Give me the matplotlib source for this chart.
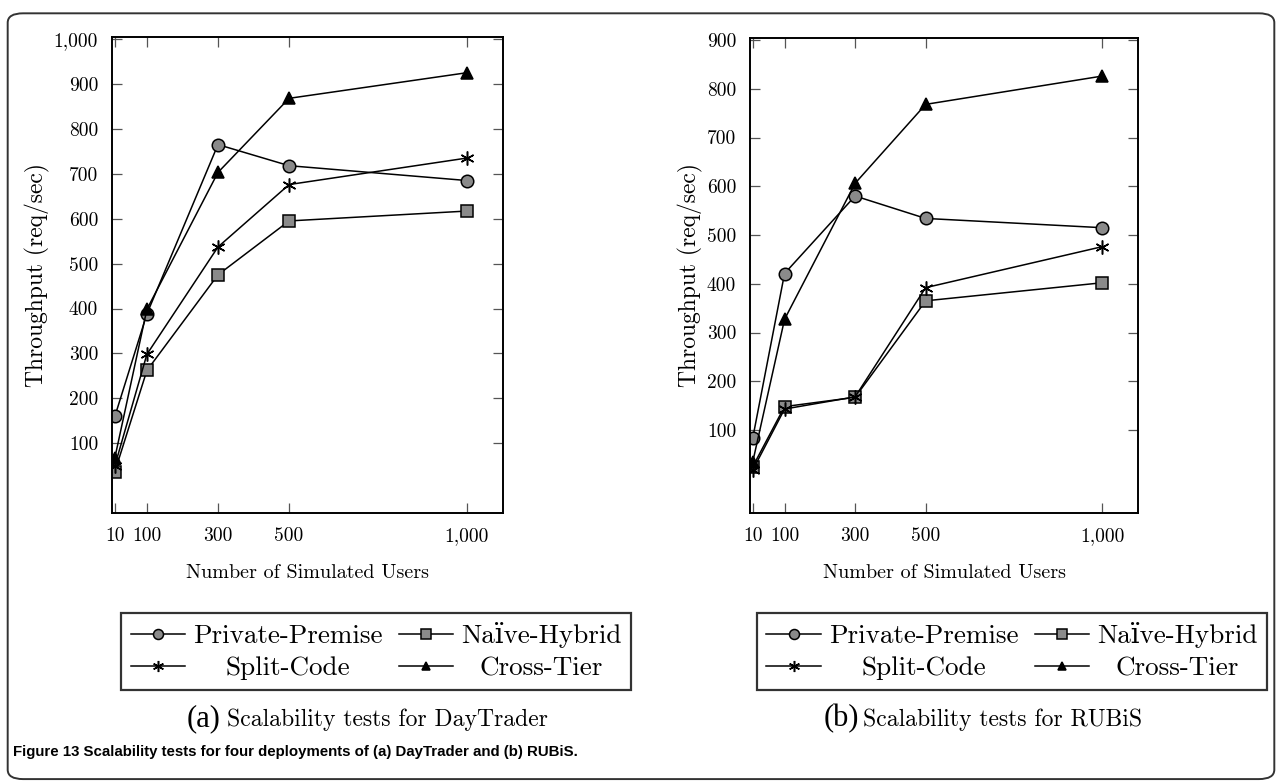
import matplotlib
matplotlib.use("Agg")
import matplotlib.pyplot as plt
from matplotlib.patches import FancyBboxPatch
from matplotlib.ticker import FuncFormatter

plt.rcParams['font.family'] = ['cmr10', 'DejaVu Serif']
plt.rcParams['axes.unicode_minus'] = False
plt.rcParams['axes.formatter.use_mathtext'] = True

# data
users = [10, 100, 300, 500, 1000]
series_names = ['Private-Premise', 'Naïve-Hybrid', 'Split-Code', 'Cross-Tier']

daytrader = {
    'Private-Premise': [160, 388, 765, 718, 685],
    'Naïve-Hybrid': [37, 262, 475, 595, 617],
    'Split-Code': [50, 298, 537, 676, 735],
    'Cross-Tier': [68, 398, 703, 868, 925],
}
rubis = {
    'Private-Premise': [84, 421, 580, 534, 515],
    'Naïve-Hybrid': [25, 148, 167, 365, 402],
    'Split-Code': [18, 143, 168, 392, 476],
    'Cross-Tier': [35, 327, 606, 768, 826],
}
dt_yticks = [100, 200, 300, 400, 500, 600, 700, 800, 900, 1000]
rb_yticks = [100, 200, 300, 400, 500, 600, 700, 800, 900]

styles = {
    'Private-Premise': dict(marker='o', markerfacecolor='#8a8a8a', markersize=9),
    'Naïve-Hybrid': dict(marker='s', markerfacecolor='#8a8a8a', markersize=8.5),
    'Split-Code': dict(marker=(6, 2, 0), markerfacecolor='black', markersize=10),
    'Cross-Tier': dict(marker='^', markerfacecolor='black', markersize=8),
}

comma = FuncFormatter(lambda v, p: '{:,}'.format(int(v)))

fig = plt.figure(figsize=(12.82, 7.83), dpi=100)
renderer = fig.canvas.get_renderer()

# rounded outer frame
fig.patches.append(FancyBboxPatch((0.006, 0.005), 0.988, 0.978,
                                  boxstyle='round,pad=0,rounding_size=0.012',
                                  transform=fig.transFigure, fill=False,
                                  edgecolor='#333333', linewidth=1.4))


def center_legend_texts(leg):
    # pgfplots centres the entries of a legend column
    texts = leg.get_texts()
    for col in (texts[0:2], texts[2:4]):
        widths = [t.get_window_extent(renderer).width for t in col]
        w_max = max(widths)
        for t, w in zip(col, widths):
            t.set_horizontalalignment('center')
            t.set_position(((w_max - w) / 2, 0))


def draw_panel(rect, data, yticks, ylim, tag, title):
    ax = fig.add_axes(rect)
    handles = {}
    for name in series_names:
        h, = ax.plot(users, data[name], color='black', linewidth=1.1,
                     markeredgecolor='black', markeredgewidth=1.1, **styles[name])
        handles[name] = h
    ax.set_xlim(2, 1102)
    ax.set_ylim(*ylim)
    ax.set_xticks(users)
    ax.set_yticks(yticks)
    ax.xaxis.set_major_formatter(comma)
    ax.yaxis.set_major_formatter(comma)
    ax.tick_params(direction='in', top=True, right=True, length=7, width=0.9,
                   labelsize=14, pad=10, color='#555555')
    for s in ax.spines.values():
        s.set_linewidth(1.4)
    ax.set_xlabel('Number of Simulated Users', fontsize=14.5, labelpad=14)
    ax.set_ylabel('Throughput (req/sec)', fontsize=17, labelpad=3)

    order = ['Private-Premise', 'Split-Code', 'Naïve-Hybrid', 'Cross-Tier']
    leg = ax.legend([handles[n] for n in order], order, ncol=2,
                    loc='upper center', bbox_to_anchor=(0.675, -0.21),
                    borderaxespad=0, fontsize=19.5, frameon=True, fancybox=False,
                    edgecolor='black', handlelength=2.0, handletextpad=0.3,
                    columnspacing=0.6, labelspacing=0.3, borderpad=0.35,
                    markerscale=0.8)
    leg.get_frame().set_linewidth(1.6)
    center_legend_texts(leg)

    cx = rect[0] + rect[2] / 2
    fig.text(cx - 0.094, 0.073, tag, fontsize=22, va='baseline', family=['Liberation Serif'])
    fig.text(cx - 0.063, 0.073, title, fontsize=17, va='baseline')
    return ax


draw_panel([0.0874, 0.345, 0.305, 0.608], daytrader, dt_yticks, (-55, 1005),
           '(a)', 'Scalability tests for DayTrader')
draw_panel([0.585, 0.345, 0.3027, 0.607], rubis, rb_yticks, (-70, 905),
           '(b)', 'Scalability tests for RUBiS')

fig.text(0.010, 0.034, 'Figure 13 Scalability tests for four deployments of (a) DayTrader and (b) RUBiS.',
         fontsize=10.8, fontweight='bold', family=['Liberation Sans'],
         va='baseline')

fig.savefig('out.png', dpi=100)
